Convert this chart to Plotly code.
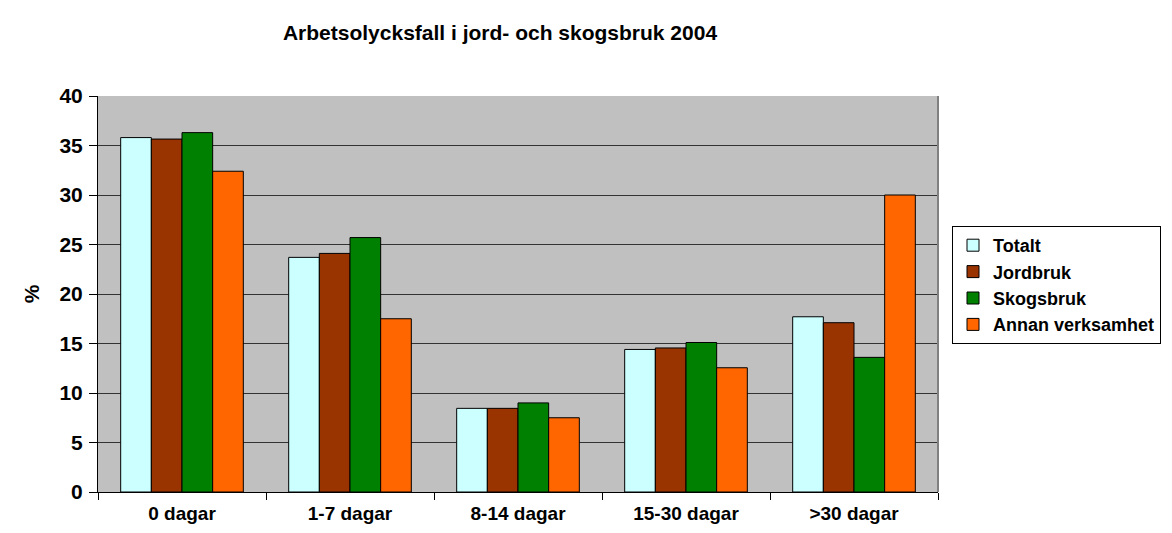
import plotly.graph_objects as go

categories = ["0 dagar", "1-7 dagar", "8-14 dagar", "15-30 dagar", ">30 dagar"]
series_names = ["Totalt", "Jordbruk", "Skogsbruk", "Annan verksamhet"]
totalt = [35.8, 23.7, 8.45, 14.4, 17.7]
jordbruk = [35.65, 24.1, 8.45, 14.55, 17.1]
skogsbruk = [36.3, 25.7, 9.0, 15.1, 13.6]
annan = [32.4, 17.5, 7.5, 12.55, 30.0]
colors = ["#CCFFFF", "#993300", "#008000", "#FF6600"]
y_ticks = [0, 5, 10, 15, 20, 25, 30, 35, 40]

FONT = "Arial, Liberation Sans, sans-serif"
OFF = 8  # page body margin offset

fig = go.Figure()
for name, vals, col in zip(series_names, [totalt, jordbruk, skogsbruk, annan], colors):
    fig.add_trace(go.Bar(
        x=categories, y=vals, name=name,
        marker=dict(color=col, line=dict(color="#000000", width=1)),
        legendgroup=name,
    ))

W, H = 1172 - OFF, 533 - OFF
fig.update_layout(
    width=W, height=H,
    margin=dict(l=98 - OFF, r=W - (938 - OFF), t=96 - OFF, b=H - (492 - OFF),
                autoexpand=False),
    paper_bgcolor="white",
    plot_bgcolor="#C0C0C0",
    barmode="group",
    bargap=0.27,
    bargroupgap=0,
    font=dict(family=FONT, color="black"),
    title=dict(
        text="<b>Arbetsolycksfall i jord- och skogsbruk 2004</b>",
        x=(500 - OFF) / W, xanchor="center", y=1 - (33 - OFF) / H, yanchor="middle",
        font=dict(size=21, family=FONT),
    ),
    showlegend=True,
    legend=dict(
        x=(952 - 98) / 840, xanchor="left",
        y=(492 - 226) / 396, yanchor="top",
        bgcolor="white", bordercolor="black", borderwidth=1,
        font=dict(size=18, family=FONT, weight="bold"),
        tracegroupgap=0,
        itemwidth=30,
    ),
)

fig.update_xaxes(
    tickfont=dict(size=19, family=FONT, weight="bold"),
    ticks="outside", tickson="boundaries", ticklen=7, tickcolor="black",
    ticklabelstandoff=4,
    showline=True, linecolor="black", linewidth=1,
    showgrid=False, mirror=False,
)
fig.update_yaxes(
    range=[0, 40], tickvals=y_ticks,
    tickfont=dict(size=21, family=FONT, weight="bold"),
    ticks="outside", ticklen=8, tickcolor="black",
    ticklabelstandoff=2,
    showline=True, linecolor="black", linewidth=1,
    showgrid=True, gridcolor="#333333", gridwidth=1,
    zeroline=False,
    title=dict(text="<b>%</b>", font=dict(size=21, family=FONT), standoff=14),
)
fig.add_shape(type="line", xref="paper", yref="paper", x0=1, x1=1, y0=0, y1=1,
              line=dict(color="#808080", width=2))

fig.write_html("out.html")
